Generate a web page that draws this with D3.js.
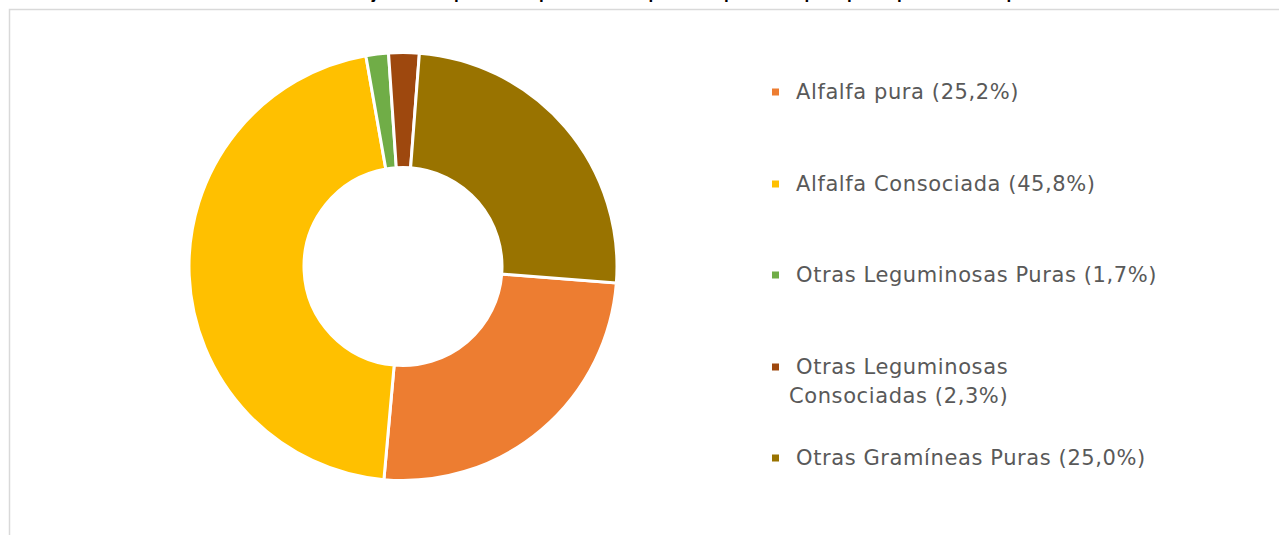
<!DOCTYPE html>
<html><head><meta charset="utf-8">
<script src="https://cdn.jsdelivr.net/npm/d3@7/dist/d3.min.js"></script>
<style>html,body{margin:0;padding:0;background:#fff;overflow:hidden}</style>
</head><body>
<svg id="c" width="1279" height="535"></svg>
<script>
const categories = ["Alfalfa pura", "Alfalfa Consociada", "Otras Leguminosas Puras", "Otras Leguminosas Consociadas", "Otras Gramíneas Puras"];
const values = [25.2, 45.8, 1.7, 2.3, 25.0];
const legendLabels = [["Alfalfa pura (25,2%)"], ["Alfalfa Consociada (45,8%)"], ["Otras Leguminosas Puras (1,7%)"], ["Otras Leguminosas", "Consociadas (2,3%)"], ["Otras Gramíneas Puras (25,0%)"]];
const colors = ["#ED7D31", "#FFC000", "#70AD47", "#9E480E", "#997300"];
const title = "Gráfico 1. Porcentaje de la superficie implantada con pasturas perennes por tipo de pastura en el partido";

const svg = d3.select("#c");
const W = 1279, H = 535;

// frame
svg.append("rect").attr("x", 9.5).attr("y", 9.5).attr("width", W + 20).attr("height", H + 20)
  .attr("fill", "#fff").attr("stroke", "#d9d9d9").attr("stroke-width", 1.5);

// cut-off title
svg.append("text").attr("x", 640).attr("y", -1).attr("text-anchor", "middle")
  .attr("font-family", "Liberation Sans, Arial, sans-serif").attr("font-weight", "bold")
  .attr("font-size", 17).attr("fill", "#000").text(title);

const cx = 403, cy = 266.5, rOut = 214, rIn = 99;
const color = d3.scaleOrdinal().domain(categories).range(colors);
const startA = 94.4 * Math.PI / 180;
const pie = d3.pie().sort(null).value(d => d.v).startAngle(startA).endAngle(startA + 2 * Math.PI);
const arc = d3.arc().innerRadius(rIn).outerRadius(rOut);
const data = categories.map((c, i) => ({c, v: values[i]}));

svg.append("g").attr("transform", `translate(${cx},${cy})`)
  .selectAll("path").data(pie(data)).join("path")
  .attr("d", arc).attr("fill", d => color(d.data.c))
  .attr("stroke", "#fff").attr("stroke-width", 3).attr("stroke-linejoin", "miter");

// legend
const ly = [92, 184, 275, 367, 458];
const lg = svg.append("g");
categories.forEach((c, i) => {
  lg.append("rect").attr("x", 772).attr("y", ly[i] - 3.5).attr("width", 7).attr("height", 7).attr("fill", color(c));
  const lines = legendLabels[i];
  lines.forEach((t, j) => {
    lg.append("text").attr("x", j === 0 ? 796 : 789).attr("y", ly[i] + j * 29)
      .attr("dominant-baseline", "central")
      .attr("font-family", "DejaVu Sans, sans-serif").attr("font-size", 21)
      .attr("letter-spacing", 0.6)
      .attr("fill", "#595959").text(t);
  });
});
</script>
</body></html>
